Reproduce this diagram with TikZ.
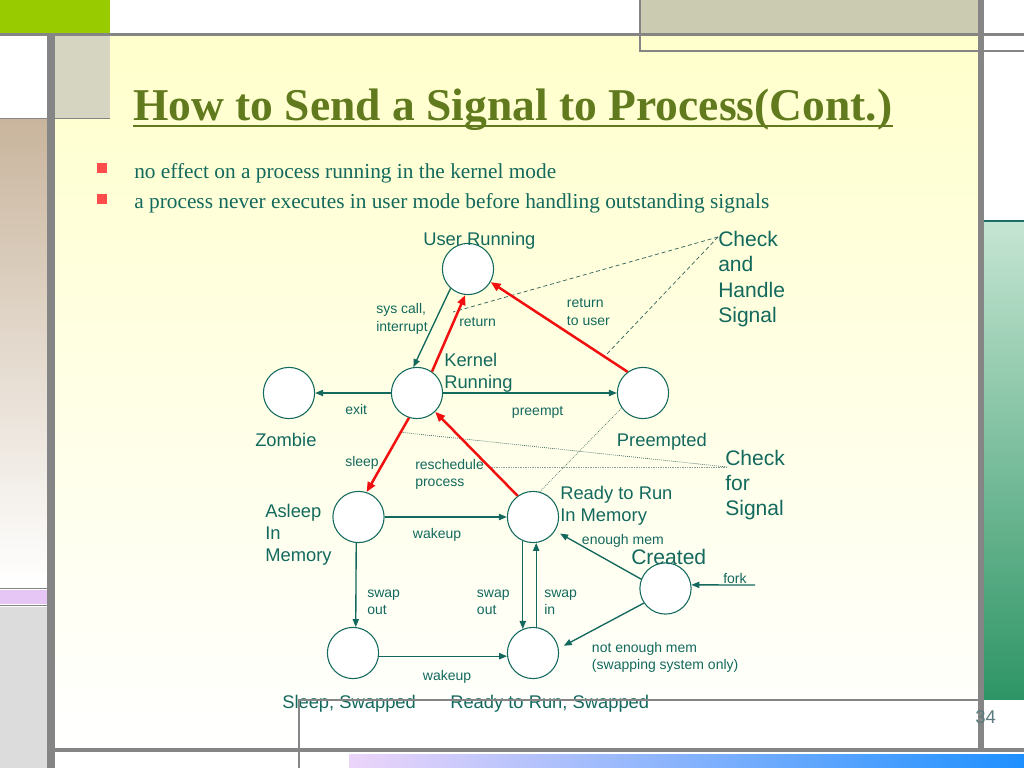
\documentclass[tikz,border=0pt]{standalone}
\usepackage{fontspec}
\setmainfont{Liberation Serif}
\newfontfamily\arialf{Liberation Sans}
\usetikzlibrary{arrows.meta,calc}
\definecolor{grayb}{HTML}{858585}
\definecolor{green1}{HTML}{99CC00}
\definecolor{beige}{HTML}{CBCBB2}
\definecolor{tanbox}{HTML}{D5D5C1}
\definecolor{tangrad}{HTML}{C9B59D}
\definecolor{purp}{HTML}{E5C6F5}
\definecolor{lgray}{HTML}{DCDCDC}
\definecolor{bgtop}{HTML}{FFFFCC}
\definecolor{grnt}{HTML}{C5E5D2}
\definecolor{grnb}{HTML}{2E9566}
\definecolor{tealdark}{HTML}{1E6E68}
\definecolor{lil}{HTML}{EDD5FA}
\definecolor{blu}{HTML}{1E90FF}
\definecolor{tealc}{HTML}{13695D}
\definecolor{titlec}{HTML}{617A1E}
\definecolor{redc}{HTML}{F01010}
\definecolor{bulc}{HTML}{FF4D4D}
\definecolor{numc}{HTML}{5A7B7E}
\definecolor{dotc}{HTML}{8A9A95}
\definecolor{dshc}{HTML}{3D6A60}
\tikzset{
  st/.style={circle, draw=tealc, fill=white, line width=0.75pt, minimum size=36pt, inner sep=0pt},
  lblS/.style={font=\arialf\fontsize{9.85}{12}\selectfont, text=tealc, inner sep=0pt, anchor=base west},
  lblM/.style={font=\arialf\fontsize{12.9}{15.8}\selectfont, text=tealc, inner sep=0pt, anchor=base west},
  lblB/.style={font=\arialf\fontsize{14.8}{17.9}\selectfont, text=tealc, inner sep=0pt, anchor=base west},
  tarr/.style={draw=tealc, line width=0.95pt, -{Triangle[length=5.6pt,width=4.4pt]}},
  rarr/.style={draw=redc, line width=1.75pt, -{Triangle[length=7pt,width=5.6pt]}},
  dsh/.style={draw=dshc, line width=0.55pt, dash pattern=on 2.8pt off 2pt},
  dtt/.style={draw=dshc, line width=0.5pt, dash pattern=on 0.6pt off 0.8pt},
  dtg/.style={draw=dotc, line width=0.6pt, dash pattern=on 0.6pt off 0.6pt},
  bullet/.style={fill=bulc},
}
\begin{document}
\begin{tikzpicture}[x=0.703125pt,y=-0.703125pt]
\useasboundingbox (0,0) rectangle (1024,768);
% ---------- background ----------
\fill[white] (0,0) rectangle (1024,768);
\shade[top color=bgtop, bottom color=white] (55,36) rectangle (978,748);
\fill[white] (299,700) rectangle (978,748);
\fill[white] (0,36) rectangle (47,118);
\fill[tanbox] (55,36) rectangle (110,118);
\shade[top color=tangrad, bottom color=white] (0,120) rectangle (47,587);
\fill[purp] (0,590) rectangle (47,604);
\fill[lgray] (0,607) rectangle (47,768);
\draw[grayb, line width=1.4pt] (0,118.5) -- (110,118.5);
\draw[grayb, line width=1.4pt] (0,588.5) -- (47,588.5);
\draw[grayb, line width=1.4pt] (0,605.5) -- (47,605.5);
\fill[green1] (0,0) rectangle (110,33);
\fill[beige] (640,0) rectangle (978,33);
\draw[grayb, line width=0.8pt] (640,0) -- (640,51) -- (1024,51);
\shade[top color=grnt, bottom color=grnb] (984,222) rectangle (1024,699);
\draw[tealdark, line width=1.4pt] (984,221) -- (1024,221);
\shade[left color=lil, right color=blu] (349,754) rectangle (1024,768);
\fill[grayb] (0,33) rectangle (1024,36);
\fill[grayb] (47,36) rectangle (55,768);
\fill[grayb] (978,0) rectangle (984,752);
\fill[grayb] (55,748) rectangle (1024,752);
% ---------- title & bullets ----------
\node[font=\bfseries\fontsize{32}{38}\selectfont, text=titlec, inner sep=0pt, anchor=base west] (title) at (133,121) {How to Send a Signal to Process(Cont.)};
\draw[titlec, line width=1.6pt] ($(title.base west)+(0,5)$) -- ($(title.base east)+(0,5)$);
\fill[bullet] (97,163) rectangle (107,173);
\fill[bullet] (97,194) rectangle (107,204);
\node[font=\fontsize{15}{18}\selectfont, text=tealc, inner sep=0pt, anchor=base west] (b1) at (134,179) {no effect on a process running in the kernel mode};
\node[font=\fontsize{15}{18}\selectfont, text=tealc, inner sep=0pt, anchor=base west] (b2) at (134,209) {a process never executes in user mode before handling outstanding signals};
% ---------- coordinates for free ends ----------
\coordinate (chk1) at (718,237);
\coordinate (d1) at (453,312);
\coordinate (d2) at (605,356);
\coordinate (chk2) at (727,467);
\coordinate (d3) at (398,432);
\coordinate (d4) at (490,467);
\coordinate (forkin) at (755,585);
% ---------- states ----------
\node[st] (user) at (468,269) {};
\node[st] (kern) at (417,393) {};
\node[st] (zomb) at (289,393) {};
\node[st] (pree) at (643,393) {};
\node[st] (rdym) at (533,517) {};
\node[st] (aslp) at (358.5,517) {};
\node[st] (slsw) at (353,653) {};
\node[st] (rdsw) at (533,653) {};
\node[st] (crea) at (665.5,588.5) {};
% ---------- dashed / dotted signal lines ----------
\draw[dsh] (chk1) -- (d1);
\draw[dsh] (chk1) -- (d2);
\draw[dtt] (chk2) -- (d3);
\draw[dtg] (chk2) -- (d4);
\draw[dtt, line width=0.4pt] (rdym.75) -- (pree.215);
% ---------- transitions ----------
\draw[tarr] (user.228) -- (kern.98);
\draw[rarr] (kern.55) -- (user.264);
\draw[rarr] (pree.126) -- (user.330);
\draw[tarr] (kern.180) -- (zomb.0);
\draw[tarr] (kern.0) -- (pree.180);
\draw[rarr] (kern.252) -- (aslp.72);
\draw[rarr] (rdym.126) -- (kern.314);
\draw[tarr] (aslp.0) -- (rdym.180);
\draw[tarr] (aslp.265) -- (slsw.84);
\draw[tarr] (rdym.247) -- (rdsw.113);
\draw[tarr] (rdsw.83) -- (rdym.277);
\draw[tarr] (slsw.-7) -- (rdsw.187);
\draw[tarr, shorten >=4pt] (crea.159) -- (rdym.328);
\draw[tarr, shorten >=4pt] (crea.214) -- (rdsw.10);
\draw[tarr] (forkin) -- (crea.8);
% ---------- state labels ----------
\node[lblM] (luser) at (423,245.5) {User Running};
\node[lblM] (lkern) at (444,366.5) {\vtop{\hbox{Kernel}\hbox{Running}}};
\node[lblM] (lzomb) at (255,446.7) {Zombie};
\node[lblM] (lpree) at (616.7,446.7) {Preempted};
\node[lblM] (lrdym) at (560,499) {\vtop{\hbox{Ready to Run}\hbox{In Memory}}};
\node[lblM] (laslp) at (265,517) {\vtop{\hbox{Asleep}\hbox{In}\hbox{Memory}}};
\node[lblM] (lslsw) at (282,708) {Sleep, Swapped};
\node[lblM] (lrdsw) at (450,708) {Ready to Run, Swapped};
\node[lblB] (lcrea) at (631,564) {Created};
\node[lblB] (lchk1) at (718,246.5) {\vtop{\hbox{Check}\hbox{and}\hbox{Handle}\hbox{Signal}}};
\node[lblB] (lchk2) at (725,465) {\vtop{\hbox{Check}\hbox{for}\hbox{Signal}}};
% ---------- transition labels ----------
\node[lblS] (tsys) at (376,314) {\vtop{\hbox{sys call,}\hbox{interrupt}}};
\node[lblS] (tret) at (459,326.7) {return};
\node[lblS] (trtu) at (566.7,308) {\vtop{\hbox{return}\hbox{to user}}};
\node[lblS] (texit) at (345,414) {exit};
\node[lblS] (tpre) at (511.7,415) {preempt};
\node[lblS] (tslp) at (345,466.7) {sleep};
\node[lblS] (tres) at (415,469) {\vtop{\hbox{reschedule}\hbox{process}}};
\node[lblS] (twk1) at (412.7,538) {wakeup};
\node[lblS] (tso1) at (367,597.5) {\vtop{\hbox{swap}\hbox{out}}};
\node[lblS] (tso2) at (476.7,597.5) {\vtop{\hbox{swap}\hbox{out}}};
\node[lblS] (tsi) at (544,597.5) {\vtop{\hbox{swap}\hbox{in}}};
\node[lblS] (twk2) at (422.7,680) {wakeup};
\node[lblS] (tenm) at (581.7,544) {enough mem};
\node[lblS] (tfork) at (723,583) {fork};
\node[lblS] (tnem) at (591.7,652.7) {\vtop{\hbox{not enough mem}\hbox{(swapping system only)}}};
% ---------- foreground frame lines & page number ----------
\draw[grayb, line width=0.8pt] (299,768) -- (299,700) -- (978,700);
\node[font=\arialf\fontsize{13}{15}\selectfont, text=numc, inner sep=0pt, anchor=base west] (pnum) at (975,723) {34};
\end{tikzpicture}
\end{document}
